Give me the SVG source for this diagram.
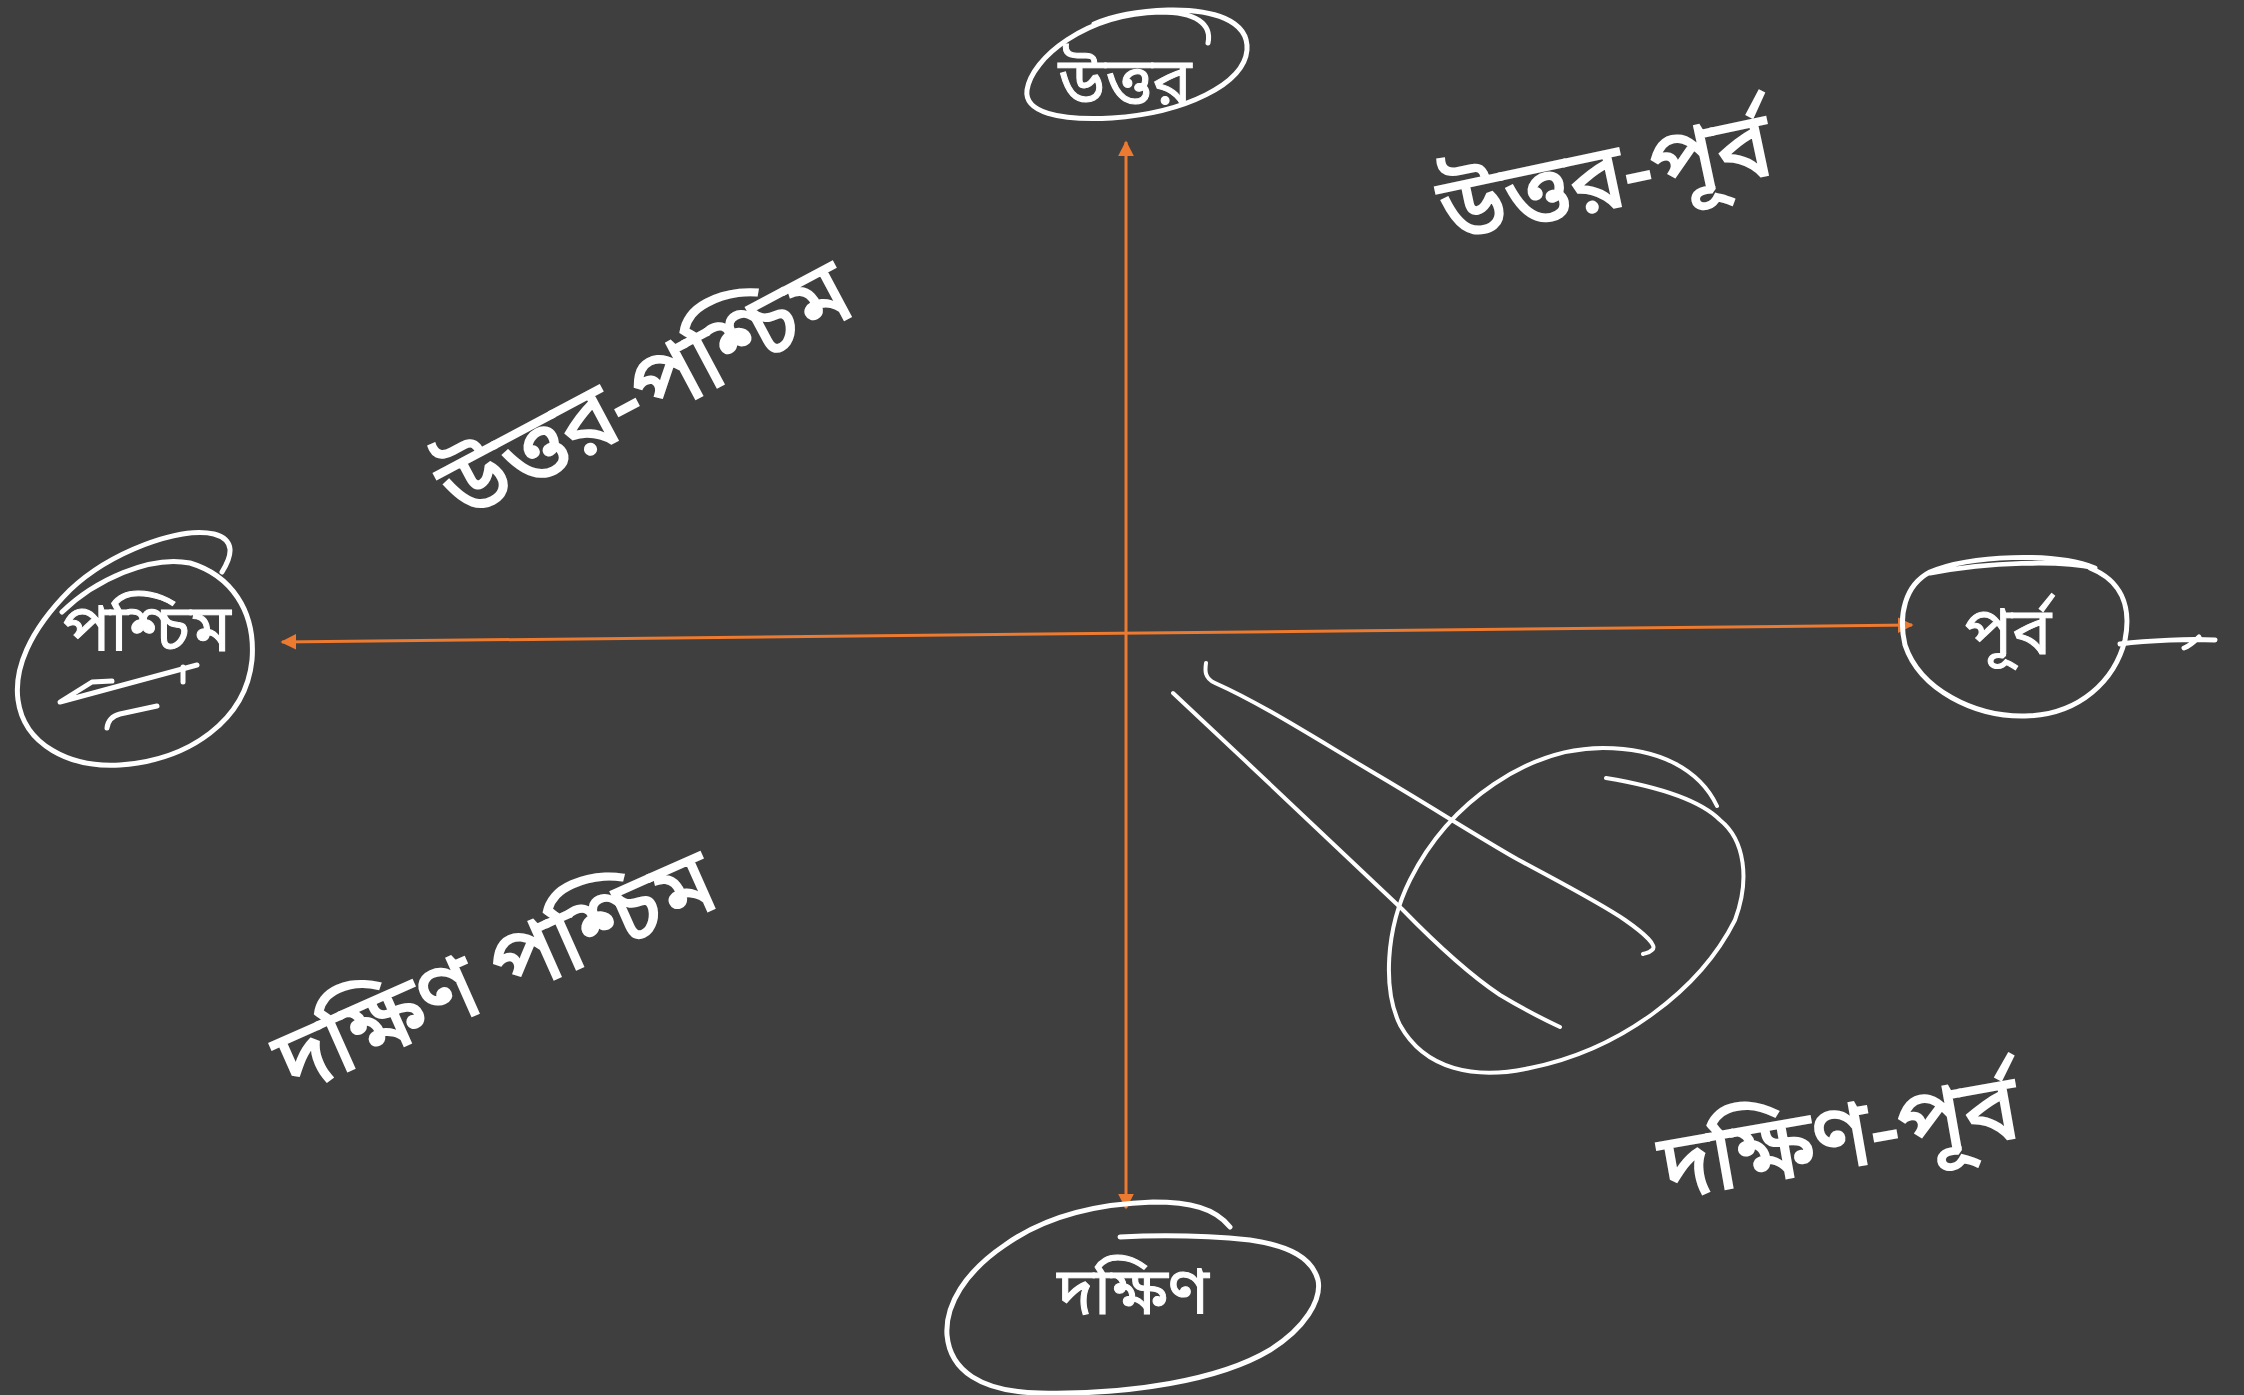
<svg xmlns="http://www.w3.org/2000/svg" width="2244" height="1395" viewBox="0 0 2244 1395">
<defs>
<style>
.bg{fill:#3f3f3f}
.ink{fill:none;stroke:#ffffff;stroke-width:5;stroke-linecap:round;stroke-linejoin:round}
.thin{fill:none;stroke:#ffffff;stroke-width:4;stroke-linecap:round;stroke-linejoin:round}
.axis{fill:none;stroke:#ec7a30;stroke-width:3}
.lbl{fill:#ffffff;stroke:#ffffff;stroke-width:1;font-family:"Noto Sans Bengali","Lohit Bengali","Noto Serif Bengali","Noto Sans",sans-serif;font-size:66px;text-anchor:middle}
.hand{fill:#ffffff;stroke:#ffffff;stroke-width:2;font-family:"Noto Sans Bengali","Lohit Bengali","Noto Serif Bengali","Noto Sans",sans-serif;font-size:92px;text-anchor:middle}
</style>
<marker id="ah" viewBox="0 0 10 10" refX="9" refY="5" markerWidth="16" markerHeight="16" markerUnits="userSpaceOnUse" orient="auto-start-reverse">
<path d="M0 0 L10 5 L0 10 z" fill="#ec7a30"/>
</marker>
</defs>
<rect class="bg" x="0" y="0" width="2244" height="1395"/>

<g id="connectors">
<line class="axis" x1="1126" y1="1208" x2="1126" y2="142" marker-start="url(#ah)" marker-end="url(#ah)"/>
<line class="axis" x1="282" y1="642" x2="1912" y2="625" marker-start="url(#ah)" marker-end="url(#ah)"/>
</g>

<g id="north">
<path class="ink" d="M1208 43 C1212 24 1196 12 1160 12 C1085 14 1032 58 1027 90 C1024 112 1058 121 1112 118 C1185 113 1244 84 1247 50 C1249 20 1212 9 1168 10 C1136 11 1110 17 1094 24"/>
<text class="lbl" x="1125" y="104">উত্তর</text>
</g>

<g id="west">
<path class="ink" d="M222 572 C232 556 236 540 214 534 C180 526 110 552 70 590 C28 632 14 670 18 700 C24 745 70 768 120 765 C190 760 246 720 252 660 C256 610 230 575 190 563 C150 555 95 580 62 612"/>
<text class="lbl" x="147" y="651">পশ্চিম</text>
<path class="ink" d="M197 665 L60 702 L92 682 L112 681"/>
<path class="ink" d="M183 667 L183 682"/>
<path class="ink" d="M107 728 C108 720 112 716 120 714 L157 706"/>
</g>

<g id="east">
<path class="ink" d="M1930 573 C1990 562 2060 560 2095 568 C2055 552 1970 555 1930 572 C1905 585 1898 615 1905 645 C1920 690 1975 717 2025 716 C2080 715 2115 680 2125 640 C2132 605 2120 580 2090 568"/>
<text class="lbl" x="2008" y="654">পূর্ব</text>
<path class="ink" d="M2120 644 C2150 640 2190 639 2215 640 M2199 637 C2194 642 2190 646 2184 648"/>
</g>

<g id="south">
<path class="ink" d="M1230 1227 C1215 1208 1190 1202 1153 1202 C1090 1204 1040 1220 1005 1245 C965 1272 945 1305 947 1335 C950 1370 980 1392 1040 1393 C1130 1395 1220 1380 1270 1350 C1305 1328 1322 1300 1318 1280 C1312 1258 1290 1246 1250 1240 C1210 1236 1160 1235 1120 1237"/>
<text class="lbl" x="1133" y="1314">দক্ষিণ</text>
</g>

<g id="sketch">
<path class="thin" d="M1173 693 C1250 765 1340 850 1402 909 C1440 948 1470 975 1500 995 C1525 1010 1545 1020 1560 1027"/>
<path class="thin" d="M1206 663 C1205 670 1204 678 1215 683 C1260 703 1310 735 1374 773 C1430 806 1475 835 1517 859 C1565 885 1600 903 1625 920 C1645 934 1658 946 1652 950 C1649 953 1646 953 1643 954"/>
<path class="thin" d="M1717 806 C1700 770 1660 748 1603 748 C1530 748 1450 800 1410 880 C1385 930 1383 990 1400 1025 C1425 1070 1475 1080 1530 1068 C1620 1050 1700 990 1735 920 C1750 880 1745 840 1720 820 C1700 800 1660 787 1606 778"/>
</g>

<g id="labels">
<text class="hand" transform="translate(1612 208) rotate(-12)">উত্তর-পূর্ব</text>
<text class="hand" transform="translate(660 418) rotate(-28)">উত্তর-পশ্চিম</text>
<text class="hand" transform="translate(508 1000) rotate(-24)">দক্ষিণ পশ্চিম</text>
<text class="hand" transform="translate(1845 1168) rotate(-10)">দক্ষিণ-পূর্ব</text>
</g>
</svg>
